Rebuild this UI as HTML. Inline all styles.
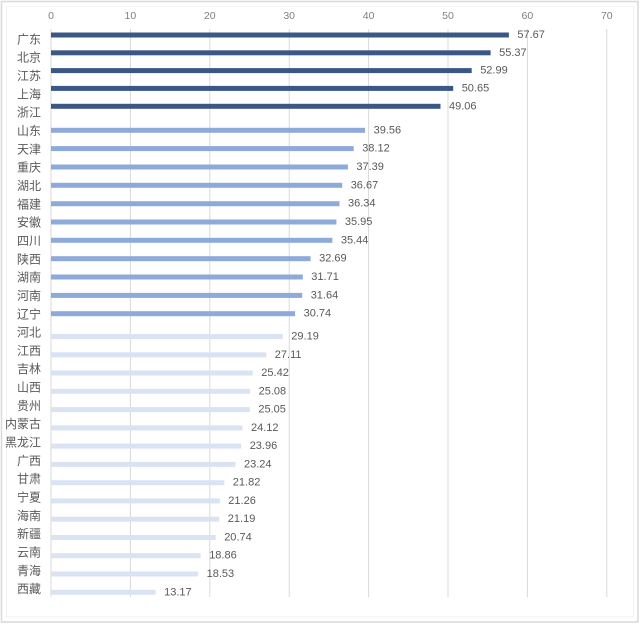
<!DOCTYPE html>
<html><head><meta charset="utf-8"><style>
html,body{margin:0;padding:0;background:#fff;}
svg{display:block;}
text{font-family:"Liberation Sans","Noto Sans CJK SC",sans-serif;}
</style></head><body>
<svg width="640" height="625" viewBox="0 0 640 625" xmlns="http://www.w3.org/2000/svg">
<rect x="0" y="0" width="640" height="625" fill="#fff"/>
<rect x="1.5" y="1.5" width="636.5" height="620.5" fill="none" stroke="#d9d9d9" stroke-width="1.5"/>
<rect x="6.5" y="6.5" width="627" height="610.5" fill="none" stroke="#f2f2f2" stroke-width="1"/>
<g stroke="#d9d9d9" stroke-width="1">
<line x1="51" y1="29" x2="51" y2="597"/>
<line x1="130.4" y1="29" x2="130.4" y2="597"/>
<line x1="209.8" y1="29" x2="209.8" y2="597"/>
<line x1="289.2" y1="29" x2="289.2" y2="597"/>
<line x1="368.6" y1="29" x2="368.6" y2="597"/>
<line x1="448" y1="29" x2="448" y2="597"/>
<line x1="527.4" y1="29" x2="527.4" y2="597"/>
<line x1="606.8" y1="29" x2="606.8" y2="597"/>
</g>
<g font-size="10.5" fill="#7f7f7f" text-anchor="middle" dominant-baseline="central">
<text x="51" y="16">0</text>
<text x="130.4" y="16">10</text>
<text x="209.8" y="16">20</text>
<text x="289.2" y="16">30</text>
<text x="368.6" y="16">40</text>
<text x="448" y="16">50</text>
<text x="527.4" y="16">60</text>
<text x="606.8" y="16">70</text>
</g>
<g fill="#3b5785">
<rect x="51" y="32.5" width="457.9" height="5"/>
<rect x="51" y="50.3" width="439.6" height="5"/>
<rect x="51" y="68.1" width="420.7" height="5"/>
<rect x="51" y="85.9" width="402.2" height="5"/>
<rect x="51" y="103.8" width="389.5" height="5"/>
</g>
<g fill="#8eaadb">
<rect x="51" y="127.8" width="314.1" height="5"/>
<rect x="51" y="146.1" width="302.7" height="5"/>
<rect x="51" y="164.5" width="296.9" height="5"/>
<rect x="51" y="182.8" width="291.2" height="5"/>
<rect x="51" y="201.2" width="288.5" height="5"/>
<rect x="51" y="219.5" width="285.4" height="5"/>
<rect x="51" y="237.8" width="281.4" height="5"/>
<rect x="51" y="256.2" width="259.6" height="5"/>
<rect x="51" y="274.5" width="251.8" height="5"/>
<rect x="51" y="292.9" width="251.2" height="5"/>
<rect x="51" y="311.2" width="244.1" height="5"/>
</g>
<g fill="#dae3f3">
<rect x="51" y="334.0" width="231.8" height="5"/>
<rect x="51" y="352.3" width="215.3" height="5"/>
<rect x="51" y="370.5" width="201.8" height="5"/>
<rect x="51" y="388.8" width="199.1" height="5"/>
<rect x="51" y="407.1" width="198.9" height="5"/>
<rect x="51" y="425.4" width="191.5" height="5"/>
<rect x="51" y="443.6" width="190.2" height="5"/>
<rect x="51" y="461.9" width="184.5" height="5"/>
<rect x="51" y="480.2" width="173.3" height="5"/>
<rect x="51" y="498.4" width="168.8" height="5"/>
<rect x="51" y="516.7" width="168.3" height="5"/>
<rect x="51" y="535.0" width="164.7" height="5"/>
<rect x="51" y="553.2" width="149.7" height="5"/>
<rect x="51" y="571.5" width="147.1" height="5"/>
<rect x="51" y="589.8" width="104.6" height="5"/>
</g>
<g font-size="12" fill="#595959" text-anchor="end" dominant-baseline="central">
<text x="41" y="39.3">广东</text>
<text x="41" y="57.6">北京</text>
<text x="41" y="76.0">江苏</text>
<text x="41" y="94.3">上海</text>
<text x="41" y="112.6">浙江</text>
<text x="41" y="131.0">山东</text>
<text x="41" y="149.3">天津</text>
<text x="41" y="167.6">重庆</text>
<text x="41" y="185.9">湖北</text>
<text x="41" y="204.3">福建</text>
<text x="41" y="222.6">安徽</text>
<text x="41" y="240.9">四川</text>
<text x="41" y="259.3">陕西</text>
<text x="41" y="277.6">湖南</text>
<text x="41" y="295.9">河南</text>
<text x="41" y="314.3">辽宁</text>
<text x="41" y="332.6">河北</text>
<text x="41" y="350.9">江西</text>
<text x="41" y="369.2">吉林</text>
<text x="41" y="387.6">山西</text>
<text x="41" y="405.9">贵州</text>
<text x="41" y="424.2">内蒙古</text>
<text x="41" y="442.6">黑龙江</text>
<text x="41" y="460.9">广西</text>
<text x="41" y="479.2">甘肃</text>
<text x="41" y="497.6">宁夏</text>
<text x="41" y="515.9">海南</text>
<text x="41" y="534.2">新疆</text>
<text x="41" y="552.5">云南</text>
<text x="41" y="570.9">青海</text>
<text x="41" y="589.2">西藏</text>
</g>
<g font-size="11" fill="#595959" dominant-baseline="central">
<text x="517.4" y="35">57.67</text>
<text x="499.1" y="52.8">55.37</text>
<text x="480.2" y="70.6">52.99</text>
<text x="461.7" y="88.4">50.65</text>
<text x="449" y="106.3">49.06</text>
<text x="373.6" y="130.3">39.56</text>
<text x="362.2" y="148.6">38.12</text>
<text x="356.4" y="167.0">37.39</text>
<text x="350.7" y="185.3">36.67</text>
<text x="348" y="203.7">36.34</text>
<text x="344.9" y="222.0">35.95</text>
<text x="340.9" y="240.3">35.44</text>
<text x="319.1" y="258.7">32.69</text>
<text x="311.3" y="277.0">31.71</text>
<text x="310.7" y="295.4">31.64</text>
<text x="303.6" y="313.7">30.74</text>
<text x="291.3" y="336.5">29.19</text>
<text x="274.8" y="354.8">27.11</text>
<text x="261.3" y="373.0">25.42</text>
<text x="258.6" y="391.3">25.08</text>
<text x="258.4" y="409.6">25.05</text>
<text x="251" y="427.9">24.12</text>
<text x="249.7" y="446.1">23.96</text>
<text x="244" y="464.4">23.24</text>
<text x="232.8" y="482.7">21.82</text>
<text x="228.3" y="500.9">21.26</text>
<text x="227.8" y="519.2">21.19</text>
<text x="224.2" y="537.5">20.74</text>
<text x="209.2" y="555.7">18.86</text>
<text x="206.6" y="574.0">18.53</text>
<text x="164.1" y="592.3">13.17</text>
</g>
</svg>
</body></html>
